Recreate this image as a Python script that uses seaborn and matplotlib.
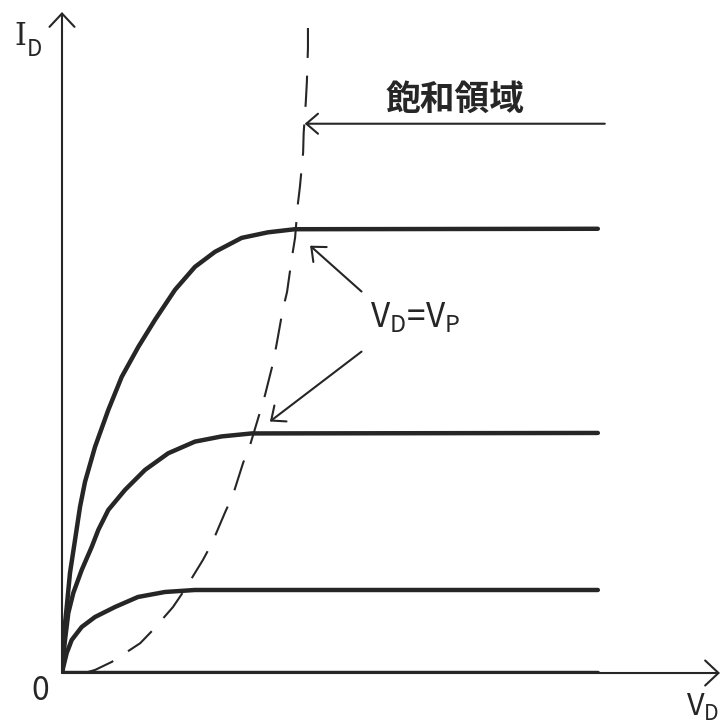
import numpy as np
import pandas as pd
import matplotlib
matplotlib.use("Agg")
import matplotlib.pyplot as plt
import seaborn as sns

# drain characteristics (V_D, I_D in arbitrary units)
v_high = [0, 0.006, 0.024, 0.088, 0.149, 0.243, 0.336, 0.429, 0.616, 0.864, 1.114,
          1.424, 1.735, 2.108, 2.481, 2.854, 3.352, 3.843, 4.347, 10.0]
i_high = [0, 0.135, 0.742, 1.483, 2.247, 2.989, 3.730, 4.292, 5.079, 5.910, 6.652,
          7.326, 7.933, 8.607, 9.124, 9.461, 9.775, 9.900, 9.970, 9.980]

v_mid = [0, 0.006, 0.056, 0.118, 0.211, 0.368, 0.554, 0.677, 0.864, 1.175, 1.549,
         1.983, 2.481, 2.979, 3.539, 10.0]
i_mid = [0, 0.135, 0.742, 1.348, 1.798, 2.315, 2.831, 3.213, 3.663, 4.112, 4.562,
         4.937, 5.198, 5.315, 5.382, 5.393]

v_low = [0, 0.024, 0.088, 0.181, 0.368, 0.616, 0.989, 1.418, 1.922, 2.481, 10.0]
i_low = [0, 0.135, 0.449, 0.742, 1.034, 1.258, 1.483, 1.708, 1.820, 1.865, 1.865]

v_off = [0, 10.0]
i_off = [0, 0]

# pinch-off locus V_D = V_P (dashed)
v_pinch = [0.42, 0.62, 0.93, 1.46, 1.70, 2.07, 2.29, 2.63, 2.80, 3.04, 3.19, 3.38, 3.51,
           3.69, 3.79, 3.94, 4.01, 4.12, 4.20, 4.29, 4.35, 4.40, 4.44, 4.50, 4.51,
           4.55, 4.57, 4.59, 4.59]
i_pinch = [0, 0.07, 0.25, 0.67, 0.97, 1.48, 1.87, 2.54, 2.92, 3.60, 4.00, 4.72, 5.12,
           5.84, 6.25, 6.97, 7.42, 8.16, 8.56, 9.33, 9.78, 10.52, 10.92, 11.69, 12.13,
           12.83, 13.28, 14.04, 14.49]

curves = pd.concat([
    pd.DataFrame({"V": v_high, "I": i_high, "curve": "high"}),
    pd.DataFrame({"V": v_mid, "I": i_mid, "curve": "mid"}),
    pd.DataFrame({"V": v_low, "I": i_low, "curve": "low"}),
    pd.DataFrame({"V": v_off, "I": i_off, "curve": "off"}),
], ignore_index=True)
pinch = pd.DataFrame({"V": v_pinch, "I": i_pinch})

sns.set_theme(style="white")
plt.rcParams["font.family"] = ["Noto Sans CJK JP", "DejaVu Sans"]

ink = "#262626"
x_max, y_max = 12.28, 14.85

fig = plt.figure(figsize=(7.24, 7.23), dpi=100)
ax = fig.add_axes([62 / 724, 50 / 723, 658 / 724, 661 / 723])

sns.lineplot(data=curves, x="V", y="I", units="curve", estimator=None, sort=False,
             color=ink, lw=3.2, solid_joinstyle="round", solid_capstyle="round", ax=ax)
sns.lineplot(data=pinch, x="V", y="I", estimator=None, sort=False,
             color=ink, lw=1.5, linestyle=(0, (15, 8.5)), ax=ax)

ax.set_xlim(0, x_max)
ax.set_ylim(0, y_max)
ax.set_axis_off()

axis_arrow = dict(arrowstyle="->,head_length=0.8,head_width=0.75", lw=1.5, color=ink,
                  shrinkA=0, shrinkB=0)
ax.annotate("", xy=(x_max, 0), xytext=(0, 0), arrowprops=axis_arrow, annotation_clip=False)
ax.annotate("", xy=(0, y_max), xytext=(0, 0), arrowprops=axis_arrow, annotation_clip=False)

note_arrow = dict(arrowstyle="->,head_length=0.7,head_width=0.6", lw=1.5, color=ink,
                  shrinkA=0, shrinkB=0)
ax.annotate("", xy=(4.53, 12.34), xytext=(10.13, 12.34), arrowprops=note_arrow)
ax.annotate("", xy=(4.63, 9.60), xytext=(5.59, 8.57), arrowprops=note_arrow)
ax.annotate("", xy=(3.88, 5.65), xytext=(5.59, 7.22), arrowprops=note_arrow)

ax.text(7.33, 12.88, "飽和領域", fontsize=25, fontweight="bold", color=ink,
        ha="center", va="center")
ax.text(6.59, 7.98, r"$\mathregular{V_D}$=$\mathregular{V_P}$", fontsize=24, color=ink,
        ha="center", va="center")
ax.text(-0.78, 14.3, "I", fontsize=22, family="DejaVu Serif", color=ink,
        ha="center", va="center")
ax.text(-0.52, 14.0, "D", fontsize=16, color=ink, ha="center", va="center")
ax.text(-0.41, -0.40, "0", fontsize=23, color=ink, ha="center", va="center")
ax.text(11.95, -0.78, r"$\mathregular{V_D}$", fontsize=22, color=ink,
        ha="center", va="center")

fig.savefig("out.png", dpi=100)
